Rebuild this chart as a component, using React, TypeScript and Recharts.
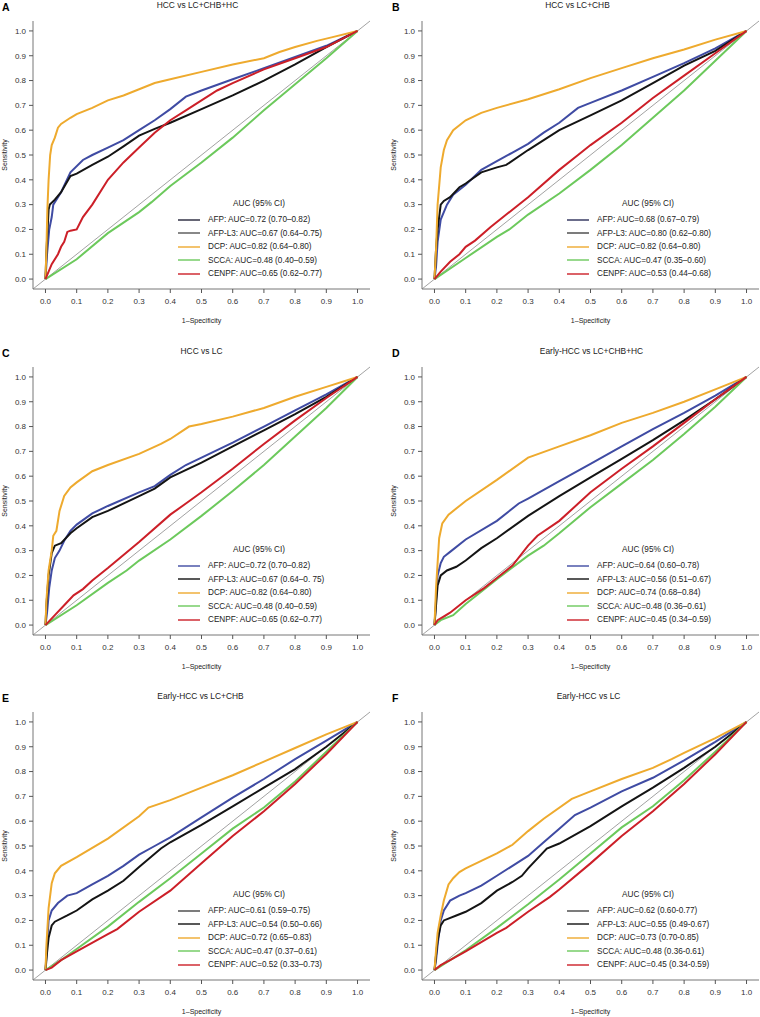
import React from "react";
import {
  LineChart,
  Line,
  XAxis,
  YAxis,
  ReferenceLine,
  Legend,
} from "recharts";

type Pt = [number, number];

const TICKS = [0, 0.1, 0.2, 0.3, 0.4, 0.5, 0.6, 0.7, 0.8, 0.9, 1];
const SERIES = ["AFP", "AFP-L3", "DCP", "SCCA", "CENPF"];
const COLORS = ["#3f4ba3", "#141414", "#eeaa2e", "#6cc95c", "#cc1f28"];

// A: HCC vs LC+CHB+HC
const A_AFP: Pt[] = [[0, 0], [0.005, 0.1], [0.012, 0.2], [0.02, 0.25], [0.025, 0.3], [0.05, 0.35], [0.08, 0.43], [0.12, 0.48], [0.15, 0.5], [0.2, 0.53], [0.25, 0.56], [0.3, 0.6], [0.35, 0.64], [0.4, 0.685], [0.45, 0.735], [0.5, 0.76], [0.6, 0.805], [0.7, 0.85], [0.8, 0.895], [0.9, 0.94], [1, 1]];
const A_L3: Pt[] = [[0, 0], [0.003, 0.11], [0.01, 0.28], [0.014, 0.3], [0.03, 0.32], [0.05, 0.35], [0.08, 0.415], [0.1, 0.425], [0.15, 0.46], [0.2, 0.493], [0.25, 0.535], [0.3, 0.578], [0.35, 0.605], [0.4, 0.63], [0.5, 0.685], [0.6, 0.74], [0.7, 0.8], [0.8, 0.865], [0.9, 0.935], [1, 1]];
const A_DCP: Pt[] = [[0, 0], [0.003, 0.12], [0.006, 0.28], [0.01, 0.4], [0.015, 0.5], [0.02, 0.54], [0.03, 0.57], [0.04, 0.61], [0.05, 0.625], [0.08, 0.65], [0.1, 0.665], [0.15, 0.69], [0.2, 0.72], [0.25, 0.74], [0.3, 0.765], [0.35, 0.79], [0.4, 0.805], [0.5, 0.835], [0.6, 0.865], [0.7, 0.89], [0.75, 0.915], [0.8, 0.935], [0.87, 0.96], [0.92, 0.975], [1, 1]];
const A_SCCA: Pt[] = [[0, 0], [0.1, 0.08], [0.2, 0.185], [0.3, 0.27], [0.34, 0.31], [0.4, 0.375], [0.5, 0.47], [0.6, 0.57], [0.7, 0.68], [0.8, 0.785], [0.9, 0.89], [1, 1]];
const A_CENPF: Pt[] = [[0, 0], [0.02, 0.06], [0.04, 0.1], [0.05, 0.13], [0.06, 0.15], [0.07, 0.19], [0.08, 0.195], [0.1, 0.2], [0.12, 0.25], [0.15, 0.3], [0.2, 0.4], [0.25, 0.47], [0.3, 0.53], [0.35, 0.59], [0.4, 0.64], [0.45, 0.68], [0.5, 0.72], [0.55, 0.76], [0.6, 0.79], [0.7, 0.845], [0.8, 0.89], [0.9, 0.935], [1, 1]];
const A_AUC = ["AFP: AUC=0.72 (0.70–0.82)", "AFP-L3: AUC=0.67 (0.64–0.75)", "DCP: AUC=0.82 (0.64–0.80)", "SCCA: AUC=0.48 (0.40–0.59)", "CENPF: AUC=0.65 (0.62–0.77)"];

// B: HCC vs LC+CHB
const B_AFP: Pt[] = [[0, 0], [0.005, 0.05], [0.01, 0.15], [0.02, 0.24], [0.04, 0.3], [0.06, 0.34], [0.1, 0.38], [0.15, 0.44], [0.2, 0.475], [0.25, 0.51], [0.3, 0.545], [0.35, 0.59], [0.4, 0.63], [0.46, 0.69], [0.5, 0.71], [0.6, 0.76], [0.7, 0.815], [0.8, 0.87], [0.9, 0.93], [1, 1]];
const B_L3: Pt[] = [[0, 0], [0.005, 0.12], [0.01, 0.2], [0.02, 0.3], [0.03, 0.315], [0.05, 0.33], [0.08, 0.37], [0.1, 0.385], [0.15, 0.43], [0.2, 0.45], [0.23, 0.46], [0.3, 0.52], [0.4, 0.6], [0.5, 0.66], [0.6, 0.72], [0.7, 0.79], [0.8, 0.86], [0.9, 0.92], [1, 1]];
const B_DCP: Pt[] = [[0, 0], [0.005, 0.12], [0.01, 0.3], [0.02, 0.45], [0.03, 0.52], [0.04, 0.56], [0.06, 0.6], [0.1, 0.64], [0.15, 0.67], [0.2, 0.69], [0.3, 0.725], [0.4, 0.765], [0.5, 0.81], [0.6, 0.85], [0.7, 0.89], [0.8, 0.925], [0.9, 0.965], [1, 1]];
const B_SCCA: Pt[] = [[0, 0], [0.1, 0.085], [0.2, 0.17], [0.24, 0.2], [0.3, 0.26], [0.4, 0.345], [0.5, 0.44], [0.6, 0.54], [0.7, 0.65], [0.8, 0.76], [0.9, 0.88], [1, 1]];
const B_CENPF: Pt[] = [[0, 0], [0.02, 0.03], [0.05, 0.07], [0.08, 0.1], [0.1, 0.13], [0.13, 0.155], [0.18, 0.21], [0.2, 0.23], [0.3, 0.33], [0.4, 0.44], [0.46, 0.5], [0.5, 0.54], [0.6, 0.63], [0.7, 0.73], [0.8, 0.82], [0.9, 0.91], [1, 1]];
const B_AUC = ["AFP: AUC=0.68 (0.67–0.79)", "AFP-L3: AUC=0.80 (0.62–0.80)", "DCP: AUC=0.82 (0.64–0.80)", "SCCA: AUC=0.47 (0.35–0.60)", "CENPF: AUC=0.53 (0.44–0.68)"];

// C: HCC vs LC
const C_AFP: Pt[] = [[0, 0], [0.005, 0.05], [0.012, 0.15], [0.02, 0.22], [0.03, 0.27], [0.045, 0.3], [0.06, 0.34], [0.08, 0.38], [0.1, 0.405], [0.15, 0.45], [0.2, 0.48], [0.3, 0.535], [0.35, 0.56], [0.4, 0.605], [0.45, 0.645], [0.5, 0.675], [0.6, 0.735], [0.7, 0.8], [0.8, 0.865], [0.9, 0.93], [1, 1]];
const C_L3: Pt[] = [[0, 0], [0.003, 0.08], [0.01, 0.2], [0.02, 0.29], [0.03, 0.32], [0.05, 0.33], [0.08, 0.37], [0.1, 0.39], [0.15, 0.435], [0.2, 0.46], [0.3, 0.52], [0.35, 0.55], [0.4, 0.595], [0.5, 0.655], [0.6, 0.72], [0.7, 0.785], [0.8, 0.85], [0.9, 0.92], [1, 1]];
const C_DCP: Pt[] = [[0, 0], [0.003, 0.1], [0.01, 0.22], [0.02, 0.3], [0.025, 0.36], [0.035, 0.38], [0.045, 0.46], [0.06, 0.52], [0.08, 0.555], [0.1, 0.575], [0.15, 0.62], [0.2, 0.645], [0.3, 0.69], [0.37, 0.73], [0.4, 0.75], [0.46, 0.8], [0.5, 0.81], [0.6, 0.84], [0.7, 0.875], [0.8, 0.92], [0.9, 0.96], [1, 1]];
const C_SCCA: Pt[] = [[0, 0], [0.1, 0.08], [0.2, 0.17], [0.26, 0.22], [0.3, 0.26], [0.4, 0.345], [0.5, 0.44], [0.6, 0.54], [0.7, 0.645], [0.8, 0.76], [0.9, 0.875], [1, 1]];
const C_CENPF: Pt[] = [[0, 0], [0.03, 0.04], [0.06, 0.08], [0.09, 0.12], [0.12, 0.145], [0.15, 0.18], [0.2, 0.23], [0.3, 0.335], [0.4, 0.445], [0.45, 0.49], [0.5, 0.535], [0.6, 0.63], [0.7, 0.73], [0.8, 0.825], [0.9, 0.915], [1, 1]];
const C_AUC = ["AFP: AUC=0.72 (0.70–0.82)", "AFP-L3: AUC=0.67 (0.64–0. 75)", "DCP: AUC=0.82 (0.64–0.80)", "SCCA: AUC=0.48 (0.40–0.59)", "CENPF: AUC=0.65 (0.62–0.77)"];

// D: Early-HCC vs LC+CHB+HC
const D_AFP: Pt[] = [[0, 0], [0.005, 0.1], [0.01, 0.2], [0.02, 0.25], [0.03, 0.275], [0.05, 0.295], [0.1, 0.345], [0.2, 0.42], [0.27, 0.49], [0.3, 0.51], [0.4, 0.58], [0.5, 0.65], [0.6, 0.72], [0.7, 0.79], [0.8, 0.855], [0.9, 0.925], [1, 1]];
const D_L3: Pt[] = [[0, 0], [0.005, 0.08], [0.01, 0.16], [0.02, 0.2], [0.04, 0.22], [0.07, 0.235], [0.1, 0.26], [0.15, 0.31], [0.2, 0.35], [0.3, 0.44], [0.4, 0.52], [0.5, 0.595], [0.6, 0.67], [0.7, 0.745], [0.8, 0.825], [0.9, 0.91], [1, 1]];
const D_DCP: Pt[] = [[0, 0], [0.005, 0.15], [0.01, 0.25], [0.015, 0.35], [0.025, 0.41], [0.045, 0.445], [0.1, 0.5], [0.2, 0.585], [0.3, 0.675], [0.4, 0.72], [0.5, 0.765], [0.6, 0.815], [0.7, 0.855], [0.8, 0.9], [0.9, 0.95], [1, 1]];
const D_SCCA: Pt[] = [[0, 0], [0.02, 0.02], [0.06, 0.04], [0.1, 0.085], [0.2, 0.185], [0.3, 0.28], [0.35, 0.32], [0.4, 0.37], [0.5, 0.475], [0.6, 0.57], [0.7, 0.665], [0.8, 0.77], [0.9, 0.88], [1, 1]];
const D_CENPF: Pt[] = [[0, 0], [0.01, 0.02], [0.05, 0.05], [0.1, 0.1], [0.16, 0.15], [0.2, 0.19], [0.25, 0.24], [0.3, 0.32], [0.33, 0.36], [0.4, 0.42], [0.5, 0.535], [0.6, 0.63], [0.7, 0.72], [0.8, 0.815], [0.9, 0.91], [1, 1]];
const D_AUC = ["AFP: AUC=0.64 (0.60–0.78)", "AFP-L3: AUC=0.56 (0.51–0.67)", "DCP: AUC=0.74 (0.68–0.84)", "SCCA: AUC=0.48 (0.36–0.61)", "CENPF: AUC=0.45 (0.34–0.59)"];

// E: Early-HCC vs LC+CHB
const E_AFP: Pt[] = [[0, 0], [0.005, 0.1], [0.01, 0.2], [0.02, 0.24], [0.04, 0.27], [0.07, 0.3], [0.1, 0.31], [0.15, 0.345], [0.2, 0.38], [0.25, 0.42], [0.3, 0.465], [0.35, 0.5], [0.4, 0.535], [0.5, 0.615], [0.6, 0.695], [0.7, 0.77], [0.8, 0.85], [0.9, 0.925], [1, 1]];
const E_L3: Pt[] = [[0, 0], [0.005, 0.07], [0.01, 0.13], [0.02, 0.18], [0.03, 0.195], [0.07, 0.22], [0.1, 0.24], [0.15, 0.285], [0.2, 0.32], [0.25, 0.36], [0.3, 0.415], [0.37, 0.49], [0.4, 0.515], [0.5, 0.585], [0.6, 0.66], [0.7, 0.735], [0.8, 0.81], [0.9, 0.9], [1, 1]];
const E_DCP: Pt[] = [[0, 0], [0.003, 0.1], [0.01, 0.25], [0.02, 0.35], [0.03, 0.39], [0.05, 0.42], [0.1, 0.455], [0.2, 0.53], [0.3, 0.62], [0.33, 0.655], [0.4, 0.685], [0.5, 0.735], [0.6, 0.785], [0.7, 0.84], [0.8, 0.895], [0.9, 0.95], [1, 1]];
const E_SCCA: Pt[] = [[0, 0], [0.05, 0.04], [0.1, 0.085], [0.2, 0.175], [0.3, 0.275], [0.4, 0.37], [0.5, 0.47], [0.6, 0.57], [0.7, 0.655], [0.8, 0.76], [0.9, 0.88], [1, 1]];
const E_CENPF: Pt[] = [[0, 0], [0.02, 0.01], [0.05, 0.04], [0.1, 0.075], [0.2, 0.145], [0.23, 0.165], [0.3, 0.235], [0.4, 0.32], [0.5, 0.43], [0.6, 0.54], [0.7, 0.64], [0.8, 0.75], [0.9, 0.87], [1, 1]];
const E_AUC = ["AFP: AUC=0.61 (0.59–0.75)", "AFP-L3: AUC=0.54 (0.50–0.66)", "DCP: AUC=0.72 (0.65–0.83)", "SCCA: AUC=0.47 (0.37–0.61)", "CENPF: AUC=0.52 (0.33–0.73)"];

// F: Early-HCC vs LC
const F_AFP: Pt[] = [[0, 0], [0.005, 0.04], [0.01, 0.1], [0.02, 0.2], [0.03, 0.24], [0.05, 0.28], [0.08, 0.3], [0.1, 0.31], [0.15, 0.34], [0.2, 0.38], [0.25, 0.42], [0.3, 0.46], [0.35, 0.515], [0.4, 0.57], [0.45, 0.625], [0.5, 0.655], [0.6, 0.72], [0.7, 0.775], [0.8, 0.845], [0.9, 0.92], [1, 1]];
const F_L3: Pt[] = [[0, 0], [0.005, 0.06], [0.01, 0.12], [0.02, 0.18], [0.03, 0.2], [0.07, 0.22], [0.1, 0.235], [0.15, 0.27], [0.2, 0.32], [0.25, 0.355], [0.28, 0.38], [0.3, 0.41], [0.36, 0.49], [0.4, 0.51], [0.45, 0.545], [0.5, 0.58], [0.6, 0.66], [0.7, 0.735], [0.8, 0.815], [0.9, 0.9], [1, 1]];
const F_DCP: Pt[] = [[0, 0], [0.005, 0.08], [0.01, 0.15], [0.02, 0.22], [0.03, 0.28], [0.045, 0.345], [0.06, 0.37], [0.08, 0.395], [0.1, 0.41], [0.15, 0.44], [0.2, 0.47], [0.25, 0.505], [0.3, 0.56], [0.35, 0.61], [0.44, 0.69], [0.5, 0.72], [0.6, 0.77], [0.7, 0.815], [0.76, 0.85], [0.8, 0.875], [0.9, 0.935], [1, 1]];
const F_SCCA: Pt[] = [[0, 0], [0.05, 0.04], [0.1, 0.08], [0.2, 0.17], [0.3, 0.265], [0.4, 0.365], [0.5, 0.47], [0.6, 0.575], [0.7, 0.66], [0.8, 0.765], [0.9, 0.88], [1, 1]];
const F_CENPF: Pt[] = [[0, 0], [0.02, 0.02], [0.05, 0.04], [0.1, 0.075], [0.2, 0.15], [0.23, 0.17], [0.3, 0.235], [0.37, 0.295], [0.4, 0.325], [0.5, 0.43], [0.6, 0.54], [0.7, 0.64], [0.8, 0.75], [0.9, 0.87], [1, 1]];
const F_AUC = ["AFP: AUC=0.62 (0.60-0.77)", "AFP-L3: AUC=0.55 (0.49-0.67)", "DCP: AUC=0.73 (0.70-0.85)", "SCCA: AUC=0.48 (0.36-0.61)", "CENPF: AUC=0.45 (0.34-0.59)"];

const PANELS = [
  { letter: "A", title: "HCC vs LC+CHB+HC", col: 0, row: 0, curves: [A_AFP, A_L3, A_DCP, A_SCCA, A_CENPF], auc: A_AUC, titleDx: -4, legendAfp: ["#25253a", "#555555"] },
  { letter: "B", title: "HCC vs LC+CHB", col: 1, row: 0, curves: [B_AFP, B_L3, B_DCP, B_SCCA, B_CENPF], auc: B_AUC, titleDx: -13, legendAfp: ["#2b2f5a", "#444444"] },
  { letter: "C", title: "HCC vs LC", col: 0, row: 1, curves: [C_AFP, C_L3, C_DCP, C_SCCA, C_CENPF], auc: C_AUC, titleDx: 0, legendAfp: ["#3f4ba3", "#111111"] },
  { letter: "D", title: "Early-HCC vs LC+CHB+HC", col: 1, row: 1, curves: [D_AFP, D_L3, D_DCP, D_SCCA, D_CENPF], auc: D_AUC, titleDx: 1, legendAfp: ["#3f4ba3", "#111111"] },
  { letter: "E", title: "Early-HCC vs LC+CHB", col: 0, row: 2, curves: [E_AFP, E_L3, E_DCP, E_SCCA, E_CENPF], auc: E_AUC, titleDx: -1, legendAfp: ["#444444", "#111111"] },
  { letter: "F", title: "Early-HCC vs LC", col: 1, row: 2, curves: [F_AFP, F_L3, F_DCP, F_SCCA, F_CENPF], auc: F_AUC, titleDx: -2, legendAfp: ["#444444", "#111111"] },
];

const ROW_TOPS = [0, 346, 691];
const DOMAIN: [number, number] = [-0.04, 1.04];
const fmt = (v: number) => v.toFixed(1);
const toData = (pts: Pt[]) => pts.map(([x, y]) => ({ x, y }));

function Panel({ p }: { p: (typeof PANELS)[number] }) {
  const boxLeft = p.col === 0 ? 33 : 42;
  const boxTop = 21;
  const boxCenter = boxLeft + 168.5;
  const legendColors = [p.legendAfp[0], p.legendAfp[1], COLORS[2], COLORS[3], COLORS[4]];
  return (
    <div style={{ position: "absolute", left: p.col * 380, top: ROW_TOPS[p.row], width: 380, height: 330 }}>
      <LineChart
        width={380}
        height={330}
        margin={{ top: boxTop, right: p.col === 0 ? 10 : 1, bottom: 11, left: p.col === 0 ? 0 : 9 }}
      >
        <XAxis
          type="number"
          dataKey="x"
          domain={DOMAIN}
          allowDataOverflow
          ticks={TICKS}
          interval={0}
          tickFormatter={fmt}
          axisLine={{ stroke: "#777" }}
          tickLine={{ stroke: "#555" }}
          tickSize={4}
          tickMargin={5}
          height={30}
          tick={{ fontSize: 8, fill: "#333" }}
        />
        <XAxis
          xAxisId="top"
          orientation="top"
          type="number"
          dataKey="x"
          domain={DOMAIN}
          allowDataOverflow
          height={0}
          tick={false}
          tickLine={false}
          axisLine={{ stroke: "#777" }}
        />
        <YAxis
          type="number"
          domain={DOMAIN}
          allowDataOverflow
          ticks={TICKS}
          interval={0}
          tickFormatter={fmt}
          axisLine={{ stroke: "#777" }}
          tickLine={{ stroke: "#555" }}
          tickSize={4}
          tickMargin={3}
          width={33}
          tick={{ fontSize: 8, fill: "#333" }}
        />
        <YAxis
          yAxisId="right"
          orientation="right"
          type="number"
          domain={DOMAIN}
          allowDataOverflow
          width={0}
          tick={false}
          tickLine={false}
          axisLine={{ stroke: "#777" }}
        />
        <ReferenceLine
          segment={[{ x: -0.04, y: -0.04 }, { x: 1.04, y: 1.04 }]}
          stroke="#8a8a8a"
          strokeWidth={0.8}
          ifOverflow="visible"
        />
        {p.curves.map((c, i) => (
          <Line
            key={SERIES[i]}
            data={toData(c)}
            dataKey="y"
            name={p.auc[i]}
            type="linear"
            stroke={COLORS[i]}
            strokeWidth={2}
            dot={false}
            activeDot={false}
            isAnimationActive={false}
          />
        ))}
        <Legend
          layout="horizontal"
          verticalAlign="middle"
          align="center"
          wrapperStyle={{ left: boxLeft + 145, top: boxTop + 174, width: 200, height: 90 }}
          content={() => (
            <div style={{ fontSize: 8.2, color: "#222", whiteSpace: "nowrap" }}>
              <div style={{ width: 162, textAlign: "center", height: 18, lineHeight: "18px" }}>AUC (95% CI)</div>
              {p.auc.map((label, i) => (
                <div key={label} style={{ display: "flex", alignItems: "center", height: 13.5 }}>
                  <svg width={22} height={4} style={{ marginRight: 8 }}>
                    <line x1={0} y1={2} x2={22} y2={2} stroke={legendColors[i]} strokeWidth={1.4} />
                  </svg>
                  <span>{label}</span>
                </div>
              ))}
            </div>
          )}
        />
      </LineChart>
      <div style={{ position: "absolute", left: p.col === 0 ? 2 : 12, top: 1, fontSize: 10.5, fontWeight: "bold", lineHeight: "12px" }}>
        {p.letter}
      </div>
      <div
        style={{
          position: "absolute",
          left: boxCenter + p.titleDx - 150,
          top: 0,
          width: 300,
          textAlign: "center",
          fontSize: 8.4,
          lineHeight: "10px",
          color: "#222",
        }}
      >
        {p.title}
      </div>
      <div
        style={{
          position: "absolute",
          left: boxLeft - 28.5 - 50,
          top: boxTop + 134 - 5,
          width: 100,
          height: 10,
          lineHeight: "10px",
          textAlign: "center",
          fontSize: 7,
          color: "#222",
          transform: "rotate(-90deg)",
        }}
      >
        Sensitivity
      </div>
      <div
        style={{
          position: "absolute",
          left: boxCenter - 60,
          top: 316,
          width: 120,
          textAlign: "center",
          fontSize: 7,
          lineHeight: "10px",
          color: "#222",
        }}
      >
        1–Specificity
      </div>
    </div>
  );
}

export default function App() {
  return (
    <div
      style={{
        position: "absolute",
        left: 0,
        top: 0,
        width: 760,
        height: 1017,
        overflow: "hidden",
        background: "#fff",
        fontFamily: "'Liberation Sans', Arial, Helvetica, sans-serif",
      }}
    >
      {PANELS.map((p) => (
        <Panel key={p.letter} p={p} />
      ))}
    </div>
  );
}
